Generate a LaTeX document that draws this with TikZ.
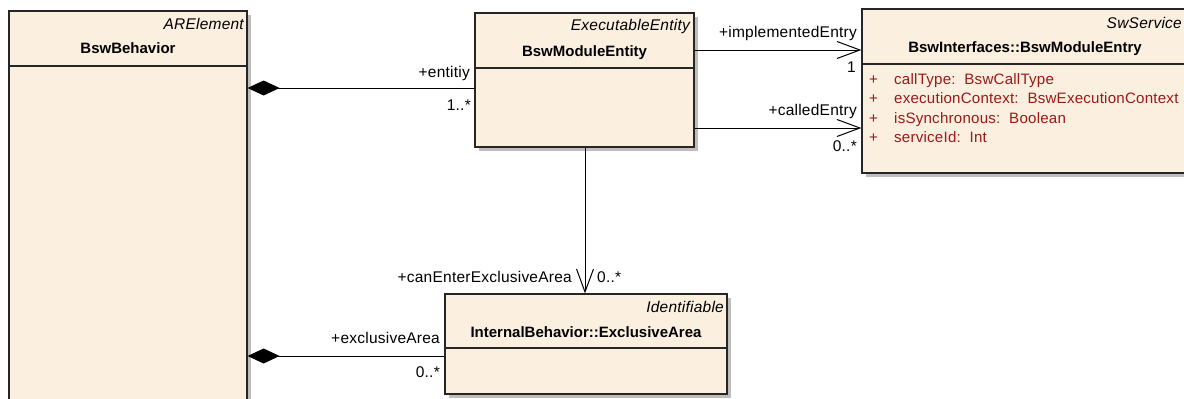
\documentclass[tikz,border=0pt]{standalone}
\usepackage{fontspec}
\setmainfont{Liberation Sans}[LetterSpace=1.5,BoldFeatures={LetterSpace=0}]
\usetikzlibrary{arrows.meta,shadows}
\definecolor{boxfill}{RGB}{251,240,224}
\definecolor{shade}{RGB}{190,190,190}
\definecolor{attr}{RGB}{155,25,25}
\begin{document}
\begin{tikzpicture}[x=1pt,y=-1pt,
  umlbox/.style={draw=black!85,line width=1.2pt,fill=boxfill,rectangle,inner sep=0pt,
    drop shadow={shadow xshift=4pt,shadow yshift=-4pt,fill=shade,opacity=1}},
  txt/.style={font=\fontsize{15.5}{18}\selectfont,inner sep=0pt,text height=11pt,text depth=3pt},
  stereo/.style={txt,font=\fontsize{15.5}{18}\selectfont\itshape,anchor=east},
  ctitle/.style={txt,font=\fontsize{15}{18}\selectfont\bfseries},
  lbl/.style={txt},
  attrtxt/.style={txt,font=\fontsize{15.1}{18}\selectfont,text=attr,anchor=west},
  conn/.style={line width=1pt,draw=black},
  comp/.style={conn,{Diamond[length=32pt,width=15pt,fill=black]}-},
  nav/.style={conn,-{Straight Barb[length=23pt,width=17pt,line width=1pt]}},
  sep/.style={line width=1.2pt,draw=black!85}]
\useasboundingbox (0,0) rectangle (1184,399);
% class boxes
\node[umlbox,minimum width=238pt,minimum height=420pt] (beh) at (128,221) {};
\node[umlbox,minimum width=219pt,minimum height=134pt] (ent) at (584.5,80) {};
\node[umlbox,minimum width=330pt,minimum height=164pt] (entry) at (1027,91) {};
\node[umlbox,minimum width=282pt,minimum height=100pt] (ea) at (586,344) {};
% separators
\coordinate (s1) at (0,66);
\coordinate (s2) at (0,68);
\coordinate (s3) at (0,64);
\coordinate (s4) at (0,348);
\draw[sep] (beh.west |- s1) -- (beh.east |- s1);
\draw[sep] (ent.west |- s2) -- (ent.east |- s2);
\draw[sep] (entry.west |- s3) -- (entry.east |- s3);
\draw[sep] (ea.west |- s4) -- (ea.east |- s4);
% headers
\node[stereo] (behst) at (244,25) {ARElement};
\node[ctitle] (behti) at (128,49) {BswBehavior};
\node[stereo] (entst) at (690,26) {ExecutableEntity};
\node[ctitle] (entti) at (584.5,52) {BswModuleEntity};
\node[stereo] (entryst) at (1182,24) {SwService};
\node[ctitle] (entryti) at (1025,48) {BswInterfaces::BswModuleEntry};
\node[stereo] (east) at (724,308) {Identifiable};
\node[ctitle] (eati) at (586,333) {InternalBehavior::ExclusiveArea};
% attributes
\node[attrtxt] (p1) at (869,80) {+};
\node[attrtxt] (a1) at (894,80) {callType:\ \ BswCallType};
\node[attrtxt] (p2) at (869,99.5) {+};
\node[attrtxt] (a2) at (894,99.5) {executionContext:\ \ BswExecutionContext};
\node[attrtxt] (p3) at (869,119) {+};
\node[attrtxt] (a3) at (894,119) {isSynchronous:\ \ Boolean};
\node[attrtxt] (p4) at (869,138) {+};
\node[attrtxt] (a4) at (894,138) {serviceId:\ \ Int};
% connectors
\coordinate (y1) at (0,88);
\coordinate (y2) at (0,50);
\coordinate (y3) at (0,128);
\coordinate (y4) at (0,356);
\coordinate (vx) at (585,0);
\draw[comp] (beh.east |- y1) -- (ent.west |- y1);
\draw[comp] (beh.east |- y4) -- (ea.west |- y4);
\draw[nav] (ent.east |- y2) -- (entry.west |- y2);
\draw[nav] (ent.east |- y3) -- (entry.west |- y3);
\draw[nav] (ent.south -| vx) -- (ea.north -| vx);
% role labels
\node[lbl,anchor=east] (l1) at (470,73) {+entitiy};
\node[lbl,anchor=east] (l2) at (471,106) {1..*};
\node[lbl,anchor=east] (l3) at (857,33) {+implementedEntry};
\node[lbl,anchor=east] (l4) at (856,68) {1};
\node[lbl,anchor=east] (l5) at (857,111) {+calledEntry};
\node[lbl,anchor=east] (l6) at (857,147) {0..*};
\node[lbl,anchor=east] (l7) at (572,278) {+canEnterExclusiveArea};
\node[lbl,anchor=west] (l8) at (597,278) {0..*};
\node[lbl,anchor=east] (l9) at (440,339) {+exclusiveArea};
\node[lbl,anchor=east] (l10) at (440,373) {0..*};
\end{tikzpicture}
\end{document}
